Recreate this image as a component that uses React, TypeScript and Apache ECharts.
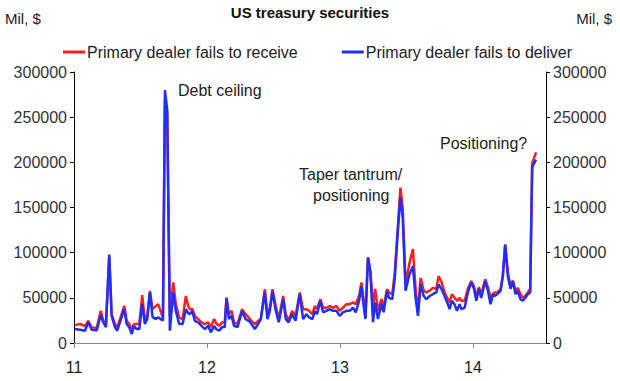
import React, { useEffect, useRef } from "react";
import * as echarts from "echarts";

// Dates as decimal years (11 = 2011)
const dates = [
  11.008, 11.045, 11.083, 11.107, 11.133, 11.171, 11.201, 11.22, 11.24, 11.265,
  11.283, 11.308, 11.325, 11.346, 11.378, 11.396, 11.415, 11.434, 11.451, 11.471,
  11.491, 11.513, 11.533, 11.551, 11.571, 11.591, 11.616, 11.633, 11.651, 11.669,
  11.684, 11.701, 11.721, 11.746, 11.766, 11.791, 11.817, 11.841, 11.859, 11.872,
  11.889, 11.909, 11.934, 11.959, 11.984, 12.009, 12.029, 12.054, 12.072, 12.092,
  12.114, 12.134, 12.147, 12.165, 12.185, 12.204, 12.23, 12.264, 12.29, 12.315,
  12.335, 12.36, 12.385, 12.405, 12.435, 12.455, 12.473, 12.493, 12.515, 12.54,
  12.573, 12.593, 12.615, 12.64, 12.666, 12.698, 12.723, 12.748, 12.768, 12.793,
  12.811, 12.828, 12.853, 12.873, 12.899, 12.923, 12.948, 12.974, 12.998, 13.023,
  13.049, 13.074, 13.098, 13.119, 13.144, 13.162, 13.179, 13.192, 13.211, 13.229,
  13.249, 13.265, 13.286, 13.312, 13.329, 13.354, 13.369, 13.394, 13.412, 13.434,
  13.455, 13.472, 13.494, 13.521, 13.549, 13.569, 13.587, 13.607, 13.63, 13.65,
  13.675, 13.699, 13.725, 13.742, 13.763, 13.787, 13.812, 13.825, 13.842, 13.862,
  13.88, 13.9, 13.913, 13.938, 13.962, 13.988, 14.007, 14.026, 14.045, 14.063,
  14.093, 14.113, 14.133, 14.15, 14.163, 14.183, 14.208, 14.225, 14.243, 14.263,
  14.283, 14.301, 14.321, 14.338, 14.358, 14.376, 14.394, 14.413, 14.431, 14.446,
  14.475,
];

// Primary dealer fails to receive (Mil, $)
const failsToReceive = [
  19800, 21000, 18700, 24600, 17300, 16500, 35600, 25000, 20000, 96000,
  32000, 21000, 17600, 26500, 41000, 25000, 21000, 15400, 21000, 21000,
  21000, 53000, 25000, 30000, 57700, 37500, 41000, 43000, 35600, 28000,
  268000, 255000, 30000, 67000, 43000, 28000, 26500, 52000, 41000, 37000,
  38000, 30000, 26500, 22800, 21000, 22800, 17600, 26500, 21000, 19000,
  22800, 22800, 50000, 32000, 35600, 22800, 21000, 37500, 32000, 28000,
  24600, 21000, 24600, 26500, 59600, 32000, 39000, 59600, 43000, 26500,
  52000, 32000, 24600, 35600, 30000, 56000, 37500, 37500, 35600, 32000,
  41000, 37500, 48500, 39000, 39000, 41000, 39000, 41000, 35600, 39000,
  43000, 43000, 45000, 43000, 52000, 67000, 46700, 28000, 95000, 80000,
  40000, 60000, 35600, 48500, 39000, 59600, 56000, 54000, 77000, 125000,
  172000, 150000, 65000, 87000, 104000, 60000, 35000, 72000, 58000, 56000,
  58000, 61000, 60000, 74000, 68000, 56000, 48500, 45000, 54000, 50000,
  46700, 50000, 46700, 46700, 60000, 68700, 63000, 52000, 61700, 54000,
  70600, 61700, 50000, 54000, 56000, 56000, 59600, 74000, 109000, 78000,
  63500, 68700, 57700, 61000, 54000, 50000, 52000, 56000, 60000, 199000,
  211000,
];

// Primary dealer fails to deliver (Mil, $)
const failsToDeliver = [
  15400, 14700, 13600, 23000, 14700, 14000, 31000, 23000, 17600, 98000,
  30000, 17600, 13600, 23000, 37500, 21000, 17600, 10000, 19000, 15400,
  15500, 43000, 21000, 26500, 56000, 28600, 26500, 28600, 26500, 25000,
  280000, 258000, 13600, 56000, 35600, 21000, 21000, 37500, 33000, 32000,
  35600, 24600, 22800, 19000, 15400, 19000, 11800, 19000, 15000, 13600,
  17600, 17600, 50000, 26500, 30000, 19000, 17600, 35600, 26500, 24600,
  21000, 15400, 21000, 26500, 56000, 26500, 35600, 57700, 37500, 23000,
  48500, 26500, 22800, 32000, 24600, 54000, 26500, 32000, 28300, 26500,
  35600, 32000, 46700, 34000, 35600, 37500, 35600, 35600, 30000, 34000,
  35600, 35600, 39000, 34000, 46700, 63000, 41000, 26500, 94500, 78000,
  23000, 45000, 26500, 43000, 34000, 57700, 50000, 48500, 70600, 120000,
  162000, 140000, 58000, 75000, 85000, 50000, 30000, 65000, 52000, 48500,
  52000, 54000, 56000, 65000, 60000, 52000, 43000, 37500, 46700, 43000,
  35600, 43000, 37500, 39000, 56000, 67000, 61000, 46700, 60000, 50000,
  68700, 58000, 43000, 54000, 52000, 54000, 57700, 74000, 109000, 74000,
  60000, 68700, 54000, 57700, 48500, 46700, 50000, 54000, 56000, 195000,
  203000,
];

const xTicks = [11, 12, 13, 14];
const yMin = 0;
const yMax = 300000;
const yStep = 50000;

const FONT = "'Liberation Sans', Arial, sans-serif";
const RED = "#ff1f1f";
const BLUE = "#1f2fff";

export default function App() {
  const ref = useRef<HTMLDivElement>(null);

  useEffect(() => {
    if (!ref.current) return;
    const chart = echarts.init(ref.current, undefined, { renderer: "svg" });
    const recv = dates.map((d, i) => [d, failsToReceive[i]]);
    const deliv = dates.map((d, i) => [d, failsToDeliver[i]]);

    const yAxisCommon = {
      type: "value" as const,
      min: yMin,
      max: yMax,
      interval: yStep,
      splitLine: { show: false },
      axisLine: { show: true, lineStyle: { color: "#000", width: 1 } },
      axisTick: { show: true, length: 4, lineStyle: { color: "#000" } },
      axisLabel: {
        color: "#333",
        fontSize: 16,
        fontFamily: FONT,
        margin: 7,
        formatter: (v: number) => String(v),
      },
    };

    chart.setOption({
      animation: false,
      backgroundColor: "#fff",
      title: {
        text: "US treasury securities",
        left: "center",
        top: 0,
        textStyle: { fontFamily: FONT, fontSize: 15, fontWeight: "bold", color: "#111" },
      },
      legend: {
        left: 58,
        top: 39,
        icon: "rect",
        itemWidth: 22,
        itemHeight: 3,
        itemGap: 44,
        textStyle: { fontFamily: FONT, fontSize: 16, color: "#222", padding: [0, 0, 0, -3] },
        data: ["Primary dealer fails to receive", "Primary dealer fails to deliver"],
      },
      grid: { left: 74, right: 74, top: 72, bottom: 38, containLabel: false },
      xAxis: {
        type: "value",
        min: 11,
        max: 14.55,
        interval: 1,
        splitLine: { show: false },
        axisLine: { show: true, onZero: false, lineStyle: { color: "#888", width: 1 } },
        axisTick: { show: true, length: 5, lineStyle: { color: "#888" }, customValues: xTicks },
        axisLabel: {
          color: "#222",
          fontSize: 16,
          fontFamily: FONT,
          margin: 16,
          customValues: xTicks,
          formatter: (v: number) => String(Math.round(v)),
        },
      },
      yAxis: [
        { ...yAxisCommon, position: "left" },
        { ...yAxisCommon, position: "right" },
      ],
      graphic: [
        { type: "text", left: 5, top: 11, style: { text: "Mil, $", font: `15px ${FONT}`, fill: "#222" } },
        { type: "text", right: 8, top: 11, style: { text: "Mil, $", font: `15px ${FONT}`, fill: "#222" } },
        { type: "text", left: 178, top: 82, style: { text: "Debt ceiling", font: `16px ${FONT}`, fill: "#222" } },
        { type: "text", left: 299, top: 166, style: { text: "Taper tantrum/", font: `16px ${FONT}`, fill: "#222" } },
        { type: "text", left: 313, top: 187, style: { text: "positioning", font: `16px ${FONT}`, fill: "#222" } },
        { type: "text", left: 440, top: 135, style: { text: "Positioning?", font: `16px ${FONT}`, fill: "#222" } },
      ],
      series: [
        {
          name: "Primary dealer fails to receive",
          type: "line",
          yAxisIndex: 0,
          data: recv,
          showSymbol: false,
          symbol: "none",
          lineStyle: { color: RED, width: 2.5 },
          itemStyle: { color: RED },
        },
        {
          name: "Primary dealer fails to deliver",
          type: "line",
          yAxisIndex: 0,
          data: deliv,
          showSymbol: false,
          symbol: "none",
          lineStyle: { color: BLUE, width: 2.5 },
          itemStyle: { color: BLUE },
        },
      ],
    });

    return () => chart.dispose();
  }, []);

  return <div ref={ref} style={{ width: 620, height: 381, position: "absolute", left: 0, top: 0 }} />;
}
